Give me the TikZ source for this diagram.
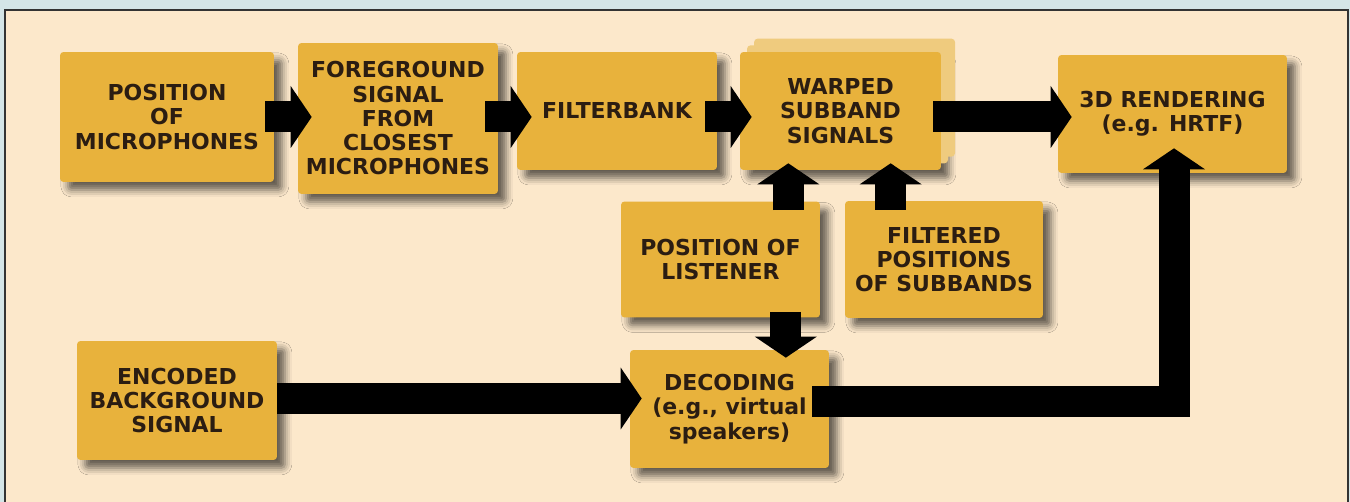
\documentclass[tikz,border=0pt]{standalone}
\usepackage{fontspec}
\setmainfont{DejaVu Sans}
\usepackage{tikz}
\usetikzlibrary{calc,arrows.meta,shadows,shadows.blur}

\definecolor{outerbg}{HTML}{D4E5E7}
\definecolor{panelbg}{HTML}{FCE8CB}
\definecolor{boxfill}{HTML}{E8B23C}
\definecolor{pagefill}{HTML}{EFCB7E}
\definecolor{inktext}{HTML}{2B1D12}

\tikzset{
  block/.style={rectangle,fill=boxfill,rounded corners=2pt,align=center,inner sep=2pt,
    text=inktext,font=\bfseries\fontsize{12.5}{13.8}\selectfont,
    blur shadow={shadow xshift=4.5pt,shadow yshift=-4.5pt,shadow blur radius=4pt,shadow opacity=60}},
  fat/.style={draw=black,line width=0.62cm,line join=miter,
    -{Triangle[width=1.24cm,length=0.42cm,line width=0pt]}},
}

\begin{document}
\begin{tikzpicture}[x=0.02cm,y=-0.02cm]
  % Frame
  \useasboundingbox (0,0) rectangle (1350,502);
  \fill[outerbg] (0,0) rectangle (1350,502);
  \fill[panelbg] (5,10) rectangle (1348,502);
  \draw[black!80,line width=0.85pt] (5,502) -- (5,10) -- (1348,10) -- (1348,502);
  %
  % Blocks, top row
  \node[block,minimum width=4.28cm,minimum height=2.6cm] (mics) at (167,117)
    {POSITION\\OF\\MICROPHONES};
  \node[block,minimum width=4cm,minimum height=3.02cm] (fg) at (398,118.5)
    {FOREGROUND\\SIGNAL\\FROM\\CLOSEST\\MICROPHONES};
  \node[block,minimum width=4cm,minimum height=2.36cm] (fb) at (617,111) {FILTERBANK};
  \node[block,minimum width=4.02cm,minimum height=2.36cm,
    double copy shadow={shadow xshift=4pt,shadow yshift=3.8pt,fill=pagefill,draw=none}] (warped) at (840.5,111)
    {WARPED\\SUBBAND\\SIGNALS};
  \node[block,minimum width=4.58cm,minimum height=2.36cm] (render) at (1172.5,114)
    {3D RENDERING\\(e.g. HRTF)};
  %
  % Blocks, middle and bottom
  \node[block,minimum width=3.98cm,minimum height=2.32cm] (listener) at (720.5,259.5)
    {POSITION OF\\LISTENER};
  \node[block,minimum width=3.96cm,minimum height=2.34cm] (filtered) at (944,259.5)
    {FILTERED\\POSITIONS\\OF SUBBANDS};
  \node[block,minimum width=4cm,minimum height=2.38cm] (encoded) at (177,400.5)
    {ENCODED\\BACKGROUND\\SIGNAL};
  \node[block,minimum width=3.98cm,minimum height=2.36cm] (decoding) at (729.5,409)
    {DECODING\\(e.g., virtual\\speakers)};
  %
  % Arrows along the top row
  \draw[fat] ($(mics.east)+(-9,0)$) -- ($(fg.west |- mics.east)+(14,0)$);
  \draw[fat] ($(fg.east |- mics.east)+(-13,0)$) -- ($(fb.west |- mics.east)+(15,0)$);
  \draw[fat] ($(fb.east |- mics.east)+(-12,0)$) -- ($(warped.west |- mics.east)+(12,0)$);
  \draw[fat] ($(warped.east |- mics.east)+(-8,0)$) -- ($(render.west |- mics.east)+(14,0)$);
  %
  % Arrows into the warped signals
  \draw[fat] ($(listener.north east)+(-32,9)$) -- ($(listener.north east |- warped.south)+(-32,-7)$);
  \draw[fat] ($(filtered.north west)+(46,9)$) -- ($(filtered.north west |- warped.south)+(46,-7)$);
  %
  % Arrows into the decoding and out of it
  \draw[fat] ($(listener.south east)+(-34.5,-6)$) -- ($(listener.south east |- decoding.north)+(-34.5,8)$);
  \draw[fat] ($(encoded.east)+(0,-2)$) -- ($(decoding.west |- encoded.east)+(12,-2)$);
  \draw[fat] ($(decoding.east)+(-17,-7.5)$) -| ($(render.south)+(1.5,-25)$);
  %
\end{tikzpicture}
\end{document}
